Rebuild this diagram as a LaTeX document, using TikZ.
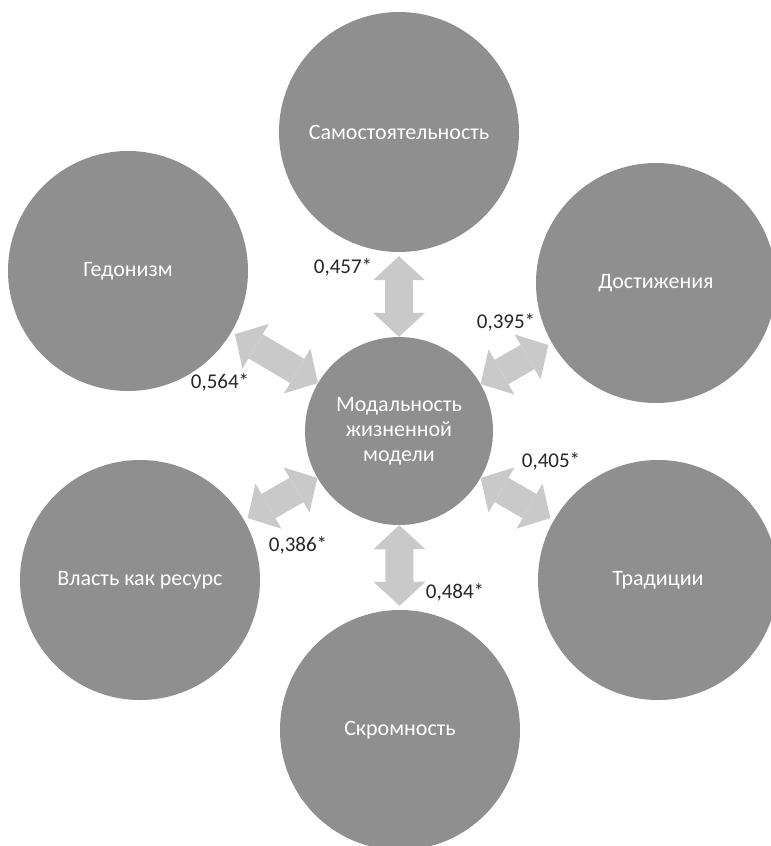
\documentclass[tikz,border=0pt]{standalone}
\usepackage{fontspec}
\setmainfont{Carlito}
\usetikzlibrary{arrows.meta}
\definecolor{disc}{HTML}{8F8F8F}
\definecolor{band}{HTML}{C9C9C9}
\definecolor{digit}{HTML}{262626}

\begin{document}
\begin{tikzpicture}[x=1pt,y=-1pt,
    bubble/.style={circle,fill=disc,text=white,minimum size=240pt,inner sep=0pt,font=\fontsize{22}{25}\selectfont},
    link/.style={draw=band,line width=28pt,{Triangle[width=52pt,length=24pt,line width=0pt]}-{Triangle[width=52pt,length=24pt,line width=0pt]},shorten <=4pt},
    coef/.style={text=digit,font=\fontsize{21}{25}\selectfont}]
    \useasboundingbox (0,0) rectangle (771,846);

        \node[bubble] (self) at (399,132) {Самостоятельность};
        \node[bubble] (hedon) at (128,271) {Гедонизм};
        \node[bubble] (achieve) at (656,283) {Достижения};
        \node[bubble] (power) at (140,580) {Власть как ресурс};
        \node[bubble] (trad) at (658,580) {Традиции};
        \node[bubble] (modest) at (400,730) {Скромность};
        \node[bubble,minimum size=188pt,align=center] (model) at (399,431) {Модальность\\жизненной\\модели};

        \draw[link] (self) -- (model);
        \draw[link] (hedon) -- (model);
        \draw[link] (achieve) -- (model);
        \draw[link] (power) -- (model);
        \draw[link] (trad) -- (model);
        \draw[link] (modest) -- (model);

        \node[coef] (r1) at (343,267) {0,457*};
        \node[coef] (r2) at (220,382) {0,564*};
        \node[coef] (r3) at (506,322) {0,395*};
        \node[coef] (r4) at (298,545) {0,386*};
        \node[coef] (r5) at (455,592) {0,484*};
        \node[coef] (r6) at (551,461) {0,405*};
\end{tikzpicture}
\end{document}
